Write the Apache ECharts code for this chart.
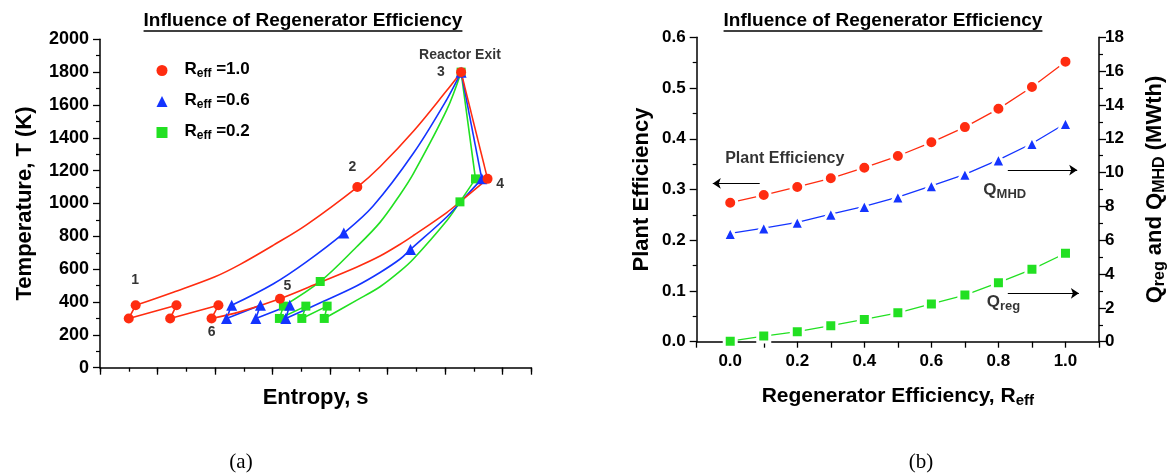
<!DOCTYPE html>
<html><head><meta charset="utf-8">
<script src="https://cdn.jsdelivr.net/npm/echarts@6/dist/echarts.min.js"></script>
<style>html,body{margin:0;padding:0;background:#fff}#c{width:1176px;height:474px}</style>
</head><body><div id="c"></div>
<script>
// ---------- Panel (a): T-s diagram, points [entropy, temperature K] ----------
const r10Markers = [[0.62,380],[0.50,300],[1.33,380],[1.22,300],[2.06,380],[1.94,300],[4.475,1100],[6.28,1800],[6.74,1150],[3.13,420]];
const r10Heat = [[0.62,380],[1.275,460],[2.0,554],[2.43,628],[3.01,745],[3.59,870],[4.475,1100],[4.87,1224],[5.45,1440],[6.03,1688],[6.28,1800]];
const r10Expand = [[6.28,1800],[6.74,1150]];
const r10Cool = [[6.74,1150],[6.26,1010],[6.03,945],[5.45,805],[5.22,752],[4.87,680],[4.46,612],[3.83,520],[3.13,420],[2.43,340],[1.94,300]];
const r10Comp = [[1.94,300],[2.06,380],[1.22,300],[1.33,380],[0.50,300],[0.62,380]];

const r06Markers = [[2.29,380],[2.20,300],[2.79,380],[2.71,300],[3.30,380],[3.23,300],[4.24,820],[6.28,1800],[6.64,1150],[5.40,720]];
const r06Heat = [[2.29,380],[3.01,510],[3.59,645],[4.24,820],[4.75,985],[5.45,1306],[6.03,1633],[6.28,1800]];
const r06Expand = [[6.28,1800],[6.64,1150]];
const r06Cool = [[6.64,1150],[6.26,1005],[6.03,918],[5.40,720],[5.22,662],[4.87,580],[4.46,498],[3.88,403],[3.23,300]];
const r06Comp = [[3.23,300],[3.30,380],[2.71,300],[2.79,380],[2.20,300],[2.29,380]];

const r02Markers = [[3.19,375],[3.12,300],[3.58,375],[3.51,300],[3.95,375],[3.90,300],[3.83,525],[6.28,1800],[6.53,1150],[6.26,1010]];
const r02Heat = [[3.19,375],[3.83,525],[4.46,735],[4.87,885],[5.22,1055],[5.45,1182],[6.03,1570],[6.28,1800]];
const r02Expand = [[6.28,1800],[6.53,1150],[6.26,1010]];
const r02Cool = [[6.26,1010],[6.03,895],[5.45,662],[5.22,588],[4.87,493],[4.46,410],[3.90,300]];
const r02Comp = [[3.90,300],[3.95,375],[3.51,300],[3.58,375],[3.12,300],[3.19,375]];

const cycleLabels = ['1','2','3','4','5','6','Reactor Exit'];
const cycleLabelPos = [[0.61,533],[4.39,1224],[5.93,1803],[6.96,1117],[3.26,498],[1.94,219],[6.26,1904]];

const tYTicks = [0, 2000, 200];      // min, max, interval
const sXTicks = [0, 7.5, 1];

// ---------- Panel (b): efficiency vs regenerator efficiency ----------
const reff = [0,0.1,0.2,0.3,0.4,0.5,0.6,0.7,0.8,0.9,1.0];
const plantEff = [0.274,0.289,0.305,0.322,0.343,0.366,0.393,0.423,0.459,0.502,0.552];
const qMHD = [6.40,6.72,7.06,7.54,8.00,8.55,9.22,9.90,10.75,11.72,12.90];
const qReg = [0.03,0.33,0.59,0.95,1.32,1.71,2.23,2.76,3.49,4.28,5.23];

const arrowPlant = [[0.088,0.312],[-0.052,0.312]];
const arrowQmhd = [[0.828,10.15],[1.035,10.15]];
const arrowQreg = [[0.828,2.86],[1.04,2.86]];
const noteTexts = ['Plant Efficiency','{a|Q}{s|MHD}','{a|Q}{s|reg}'];
const notePos = [[-0.015,0.361],[0.755,8.91],[0.765,2.29]];

// ---------- styling ----------
const FONT = '"Liberation Sans", Arial, Helvetica, sans-serif';
const SERIF = '"Liberation Serif", "Times New Roman", serif';
const RED = '#FF2C10', BLUE = '#1434FF', GREEN = '#22E022';

function rich(S, s) {
  return {
    p: {width: 12, fontSize: S, lineHeight: S + 2},
    a: {fontSize: S, fontWeight: 'bold', fontFamily: FONT, color: '#000', lineHeight: S + 2, verticalAlign: 'top'},
    s: {fontSize: s, fontWeight: 'bold', fontFamily: FONT, color: '#000', lineHeight: s + 2, verticalAlign: 'bottom', padding: [Math.round(S * 0.55), 0, 0, 0]}
  };
}

const axLine = {show: true, onZero: false, lineStyle: {color: '#000', width: 1.5}};
const tickOut = (len) => ({show: true, inside: false, length: len, lineStyle: {color: '#000', width: 1.3}});
const minor = {show: true, splitNumber: 2, length: 4, lineStyle: {color: '#000', width: 1.2}};
const lblStyle = (size, margin) => ({color: '#000', fontSize: size, fontWeight: 'bold', fontFamily: FONT, margin});

function cycLine(data, color, smooth, z) {
  return {type: 'line', xAxisIndex: 0, yAxisIndex: 0, data, symbol: 'none', showSymbol: false,
    smooth: smooth ? 0.35 : false, lineStyle: {color, width: 1.6}, z, silent: true};
}
function cycMarks(name, data, color, symbol, size, z) {
  return {type: 'scatter', name, xAxisIndex: 0, yAxisIndex: 0, data, symbol, symbolSize: size,
    itemStyle: {color, opacity: 1}, z, silent: true};
}
function arrowLine(pts) {
  return {silent: true, symbol: ['none', 'arrow'], symbolSize: 8, label: {show: false},
    itemStyle: {color: '#000', borderWidth: 0, borderColor: '#000'},
    lineStyle: {color: '#000', width: 1, type: 'solid'},
    data: [[{coord: pts[0]}, {coord: pts[1]}]]};
}

const series = [
  cycLine(r02Heat, GREEN, true, 2), cycLine(r02Expand, GREEN, false, 2), cycLine(r02Cool, GREEN, true, 2), cycLine(r02Comp, GREEN, false, 2),
  cycLine(r06Heat, BLUE, true, 3), cycLine(r06Expand, BLUE, false, 3), cycLine(r06Cool, BLUE, true, 3), cycLine(r06Comp, BLUE, false, 3),
  cycLine(r10Heat, RED, true, 4), cycLine(r10Expand, RED, false, 4), cycLine(r10Cool, RED, true, 4), cycLine(r10Comp, RED, false, 4),
  cycMarks('R02', r02Markers, GREEN, 'rect', 9, 5),
  cycMarks('R06', r06Markers, BLUE, 'triangle', 11, 6),
  cycMarks('R10', r10Markers, RED, 'circle', 10, 7),
  {type: 'scatter', xAxisIndex: 0, yAxisIndex: 0, silent: true, symbolSize: 1, itemStyle: {color: 'rgba(0,0,0,0)'}, z: 8,
    data: cycleLabelPos.map((p, i) => ({value: p, name: cycleLabels[i]})),
    label: {show: true, position: 'inside', formatter: '{b}', color: '#000', fontFamily: FONT, fontWeight: 'bold',
      fontSize: 14}},
  // panel (b)
  {type: 'line', name: 'Plant Efficiency', xAxisIndex: 2, yAxisIndex: 1, data: reff.map((x, i) => [x, plantEff[i]]),
    symbol: 'circle', symbolSize: 13, itemStyle: {color: RED, borderColor: '#fff', borderWidth: 3},
    lineStyle: {color: RED, width: 1.3}, z: 4, markLine: arrowLine(arrowPlant)},
  {type: 'line', name: 'Q_MHD', xAxisIndex: 2, yAxisIndex: 2, data: reff.map((x, i) => [x, qMHD[i]]),
    symbol: 'triangle', symbolSize: 14, itemStyle: {color: BLUE, borderColor: '#fff', borderWidth: 3},
    lineStyle: {color: BLUE, width: 1.3}, z: 4, markLine: arrowLine(arrowQmhd)},
  {type: 'line', name: 'Q_reg', xAxisIndex: 2, yAxisIndex: 2, data: reff.map((x, i) => [x, qReg[i]]),
    symbol: 'rect', symbolSize: 12, itemStyle: {color: GREEN, borderColor: '#fff', borderWidth: 3},
    lineStyle: {color: GREEN, width: 1.3}, z: 4, markLine: arrowLine(arrowQreg)},
  {type: 'scatter', xAxisIndex: 2, yAxisIndex: 1, silent: true, symbolSize: 1, itemStyle: {color: 'rgba(0,0,0,0)'}, z: 8,
    data: [{value: notePos[0], name: noteTexts[0]}],
    label: {show: true, position: 'inside', align: 'left', formatter: '{b}', color: '#000', fontFamily: FONT, fontWeight: 'bold', fontSize: 16}},
  {type: 'scatter', xAxisIndex: 2, yAxisIndex: 2, silent: true, symbolSize: 1, itemStyle: {color: 'rgba(0,0,0,0)'}, z: 8,
    data: [{value: notePos[1], name: noteTexts[1]}, {value: notePos[2], name: noteTexts[2]}],
    label: {show: true, position: 'inside', align: 'left', formatter: '{b}', rich: rich(17, 13)}}
];

const legendNames = {R10: '1.0', R06: '0.6', R02: '0.2'};

const chart = echarts.init(document.getElementById('c'), null, {renderer: 'canvas'});

function measure(text, font) {
  const ctx = document.createElement('canvas').getContext('2d');
  ctx.font = font; return ctx.measureText(text).width;
}
const titleText = 'Influence of Regenerator Efficiency';
const titleFont = 'bold 19px ' + FONT;
const tw = measure(titleText, titleFont);
const titles = [[303, 21], [883, 21]];
const graphics = [];
titles.forEach(([cx, cy]) => {
  graphics.push({type: 'text', x: cx, y: cy, silent: true,
    style: {text: titleText, font: titleFont, fill: '#000', textAlign: 'center', align: 'center', textVerticalAlign: 'middle', verticalAlign: 'middle'}});
  graphics.push({type: 'line', silent: true, shape: {x1: cx - tw / 2, y1: cy + 10, x2: cx + tw / 2, y2: cy + 10},
    style: {stroke: '#000', lineWidth: 1.3}});
});
[['(a)', 241, 462], ['(b)', 921, 462]].forEach(([t, x, y]) => {
  graphics.push({type: 'text', x, y, silent: true,
    style: {text: t, font: '21px ' + SERIF, fill: '#000', textAlign: 'center', align: 'center', textVerticalAlign: 'middle', verticalAlign: 'middle'}});
});

chart.setOption({
  animation: false,
  backgroundColor: '#fff',
  grid: [
    {left: 100, top: 39.3, width: 431.25, height: 328.4, outerBoundsMode: 'none', containLabel: false},
    {left: 696.7, top: 37.3, width: 402.3, height: 304.4, outerBoundsMode: 'none', containLabel: false}
  ],
  legend: {
    data: [{name: 'R10', icon: 'circle'}, {name: 'R06', icon: 'triangle'}, {name: 'R02', icon: 'rect'}],
    orient: 'vertical', left: 151.5, top: 54, itemWidth: 11, itemHeight: 11, itemGap: 10,
    selectedMode: false, formatter: (n) => '{p| }{a|R}{s|eff}{a| =' + legendNames[n] + '}',
    textStyle: {rich: rich(17, 12)}
  },
  xAxis: [
    {gridIndex: 0, type: 'value', min: sXTicks[0], max: sXTicks[1], interval: sXTicks[2], position: 'bottom',
      axisLine: axLine, axisTick: tickOut(7), axisLabel: {show: false}, splitLine: {show: false},
      name: 'Entropy, s', nameLocation: 'middle', nameGap: 19,
      nameTextStyle: {color: '#000', fontSize: 22, fontWeight: 'bold', fontFamily: FONT}},
    {gridIndex: 0, type: 'value', min: sXTicks[0], max: sXTicks[1], interval: sXTicks[2] / 2, position: 'bottom', offset: 0,
      axisLine: {show: false, onZero: false}, axisTick: tickOut(4), axisLabel: {show: false}, splitLine: {show: false}},
    {gridIndex: 1, type: 'value', min: -0.1, max: 1.1, interval: 0.1, position: 'bottom',
      axisLine: axLine, axisTick: tickOut(6), splitLine: {show: false},
      axisLabel: Object.assign(lblStyle(17, 11), {formatter: (v) => {
        const k = Math.round(v * 10); return (k >= 0 && k <= 10 && k % 2 === 0) ? (k / 10).toFixed(1) : '';
      }}),
      name: '{a|Regenerator Efficiency, R}{s|eff}', nameLocation: 'middle', nameGap: 44,
      nameTextStyle: {rich: rich(21, 15)}}
  ],
  yAxis: [
    {gridIndex: 0, type: 'value', min: tYTicks[0], max: tYTicks[1], interval: tYTicks[2],
      axisLine: axLine, axisTick: tickOut(7), minorTick: minor, splitLine: {show: false}, minorSplitLine: {show: false},
      axisLabel: Object.assign(lblStyle(18, 11), {formatter: (v) => String(v)}),
      name: 'Temperature, T (K)', nameLocation: 'middle', nameGap: 64,
      nameTextStyle: {color: '#000', fontSize: 22, fontWeight: 'bold', fontFamily: FONT}},
    {gridIndex: 1, type: 'value', min: 0, max: 0.6, interval: 0.1, position: 'left',
      axisLine: axLine, axisTick: tickOut(7), minorTick: minor, splitLine: {show: false},
      axisLabel: Object.assign(lblStyle(17, 11), {formatter: (v) => v.toFixed(1)}),
      name: 'Plant Efficiency', nameLocation: 'middle', nameGap: 44,
      nameTextStyle: {color: '#000', fontSize: 22, fontWeight: 'bold', fontFamily: FONT}},
    {gridIndex: 1, type: 'value', min: 0, max: 18, interval: 2, position: 'right',
      axisLine: axLine, axisTick: tickOut(7), minorTick: minor, splitLine: {show: false},
      axisLabel: lblStyle(17, 6),
      name: '{a|Q}{s|reg}{a| and Q}{s|MHD}{a| (MWth)}', nameLocation: 'middle', nameGap: 45, nameRotate: 90,
      nameTextStyle: {rich: rich(22, 16)}}
  ],
  series,
  graphic: graphics
});
</script></body></html>
